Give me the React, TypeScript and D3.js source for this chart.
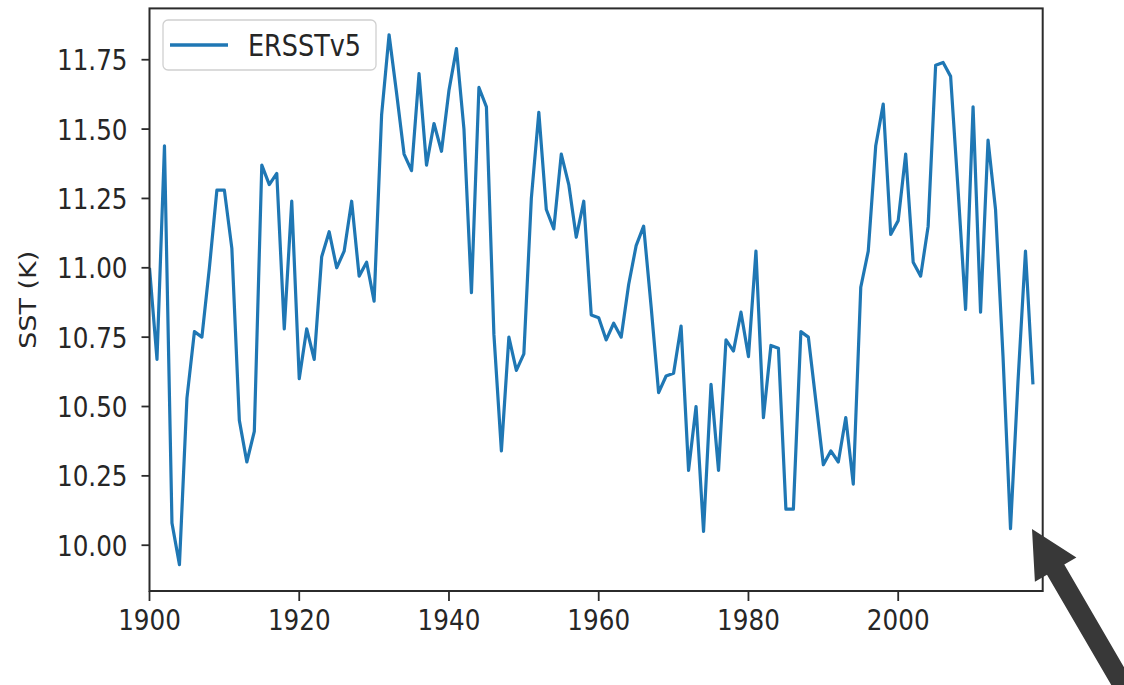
import React from "react";
import * as d3 from "d3";

const startYear = 1900;
const sst: number[] = [
  11.0, 10.67, 11.44, 10.08, 9.93, 10.53, 10.77, 10.75, 11.0, 11.28,
  11.28, 11.07, 10.45, 10.3, 10.41, 11.37, 11.3, 11.34, 10.78, 11.24,
  10.6, 10.78, 10.67, 11.04, 11.13, 11.0, 11.06, 11.24, 10.97, 11.02,
  10.88, 11.55, 11.84, 11.63, 11.41, 11.35, 11.7, 11.37, 11.52, 11.42,
  11.64, 11.79, 11.5, 10.91, 11.65, 11.58, 10.76, 10.34, 10.75, 10.63,
  10.69, 11.25, 11.56, 11.21, 11.14, 11.41, 11.3, 11.11, 11.24, 10.83,
  10.82, 10.74, 10.8, 10.75, 10.94, 11.08, 11.15, 10.86, 10.55, 10.61,
  10.62, 10.79, 10.27, 10.5, 10.05, 10.58, 10.27, 10.74, 10.7, 10.84,
  10.68, 11.06, 10.46, 10.72, 10.71, 10.13, 10.13, 10.77, 10.75, 10.52,
  10.29, 10.34, 10.3, 10.46, 10.22, 10.93, 11.06, 11.44, 11.59, 11.12,
  11.17, 11.41, 11.02, 10.97, 11.15, 11.73, 11.74, 11.69, 11.28, 10.85,
  11.58, 10.84, 11.46, 11.21, 10.68, 10.06, 10.59, 11.06, 10.58,
];
const xTicks: number[] = [1900, 1920, 1940, 1960, 1980, 2000];
const yTicks: number[] = [10.0, 10.25, 10.5, 10.75, 11.0, 11.25, 11.5, 11.75];
const seriesName = "ERSSTv5";
const yLabel = "SST (K)";

const W = 1124;
const H = 685;
const L = 149.5, R = 1042.7, T = 8.4, B = 591;
const FONT = "'DejaVu Sans', sans-serif";
const SX = 0.85;

export default function App() {
  const data = sst.map((v, i) => ({ year: startYear + i, v }));
  const x = d3.scaleLinear().domain([1900, 2019.3]).range([L, R]);
  const y = d3.scaleLinear().domain([9.835, 11.935]).range([B, T]);
  const line = d3
    .line<{ year: number; v: number }>()
    .x((d) => x(d.year))
    .y((d) => y(d.v));

  // arrow geometry
  const tip = [1032, 529];
  const dir = [0.503, 0.864];
  const nrm = [0.864, -0.503];
  const headLen = 47, headHalf = 24, shaftHalf = 10, far = 260;
  const bx = tip[0] + dir[0] * headLen, by = tip[1] + dir[1] * headLen;
  const fx = tip[0] + dir[0] * far, fy = tip[1] + dir[1] * far;
  const arrowPts = [
    [tip[0], tip[1]],
    [bx + nrm[0] * headHalf, by + nrm[1] * headHalf],
    [bx + nrm[0] * shaftHalf, by + nrm[1] * shaftHalf],
    [fx + nrm[0] * shaftHalf, fy + nrm[1] * shaftHalf],
    [fx - nrm[0] * shaftHalf, fy - nrm[1] * shaftHalf],
    [bx - nrm[0] * shaftHalf, by - nrm[1] * shaftHalf],
    [bx - nrm[0] * headHalf, by - nrm[1] * headHalf],
  ]
    .map((p) => p.join(","))
    .join(" ");

  return (
    <svg
      width={W}
      height={H}
      style={{ position: "fixed", left: 0, top: 0, background: "#fff" }}
      fontFamily={FONT}
    >
      <rect x={0} y={0} width={W} height={H} fill="#fff" />
      <defs>
        <clipPath id="plot">
          <rect x={L} y={T} width={R - L} height={B - T} />
        </clipPath>
      </defs>
      <path
        d={line(data) || ""}
        fill="none"
        stroke="#1f77b4"
        strokeWidth={3.2}
        strokeLinejoin="round"
        clipPath="url(#plot)"
      />
      {/* frame */}
      <rect x={L} y={T} width={R - L} height={B - T} fill="none" stroke="#2b2b2b" strokeWidth={2} />
      {/* x ticks */}
      {xTicks.map((t) => (
        <g key={"x" + t}>
          <line x1={x(t)} x2={x(t)} y1={B} y2={B + 10} stroke="#2b2b2b" strokeWidth={1.8} />
          <text
            transform={`translate(${x(t)},${B + 39}) scale(${SX},1)`}
            textAnchor="middle"
            fontSize={29}
            fill="#262626"
          >
            {t}
          </text>
        </g>
      ))}
      {/* y ticks */}
      {yTicks.map((t) => (
        <g key={"y" + t}>
          <line x1={L - 8} x2={L} y1={y(t)} y2={y(t)} stroke="#2b2b2b" strokeWidth={1.8} />
          <text
            transform={`translate(${L - 22},${y(t) + 10.5}) scale(${SX},1)`}
            textAnchor="end"
            fontSize={29}
            fill="#262626"
          >
            {d3.format(".2f")(t)}
          </text>
        </g>
      ))}
      <text
        transform={`translate(36,${(T + B) / 2}) rotate(-90) scale(1,${SX})`}
        textAnchor="middle"
        fontSize={27}
        fill="#262626"
      >
        {yLabel}
      </text>
      {/* legend */}
      <rect x={163} y={20} width={213} height={50} rx={5} fill="#fff" fillOpacity={0.8} stroke="#d0d0d0" strokeWidth={1.3} />
      <line x1={170} x2={228} y1={45} y2={45} stroke="#1f77b4" strokeWidth={3.5} />
      <text transform={`translate(248,56) scale(${SX},1)`} fontSize={30} fill="#262626">
        {seriesName}
      </text>
      {/* arrow */}
      <polygon points={arrowPts} fill="#383838" />
    </svg>
  );
}
